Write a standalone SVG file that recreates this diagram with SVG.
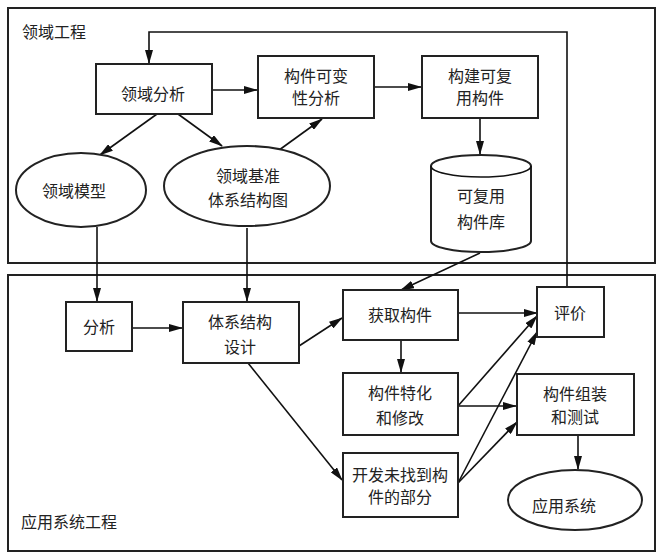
<svg xmlns="http://www.w3.org/2000/svg" width="663" height="560" viewBox="0 0 663 560">
<defs>
<marker id="ah" markerWidth="14" markerHeight="8" refX="13" refY="4" orient="auto" markerUnits="userSpaceOnUse">
<path d="M0,0 L14,4 L0,8 Z" fill="#111"/>
</marker>
<style>
.box{fill:#fff;stroke:#222;stroke-width:2}
.frame{fill:none;stroke:#222;stroke-width:2}
.t{font-family:"Noto Sans CJK SC","Liberation Sans",sans-serif;font-size:16px;fill:#222;text-anchor:middle}
.lbl{font-family:"Noto Sans CJK SC","Liberation Sans",sans-serif;font-size:16px;fill:#222}
.c{fill:none;stroke:#111;stroke-width:1.6}
.a{fill:none;stroke:#111;stroke-width:1.6;marker-end:url(#ah)}
</style>
</defs>
<rect width="663" height="560" fill="#fff"/>
<g id="frames">
<rect class="frame" x="8" y="8" width="647" height="255"/>
<rect class="frame" x="8" y="275" width="647" height="276"/>
<text class="lbl" x="22" y="38">领域工程</text>
<text class="lbl" x="21" y="528">应用系统工程</text>
</g>
<g id="connectors">
<path class="a" d="M567,287 V32 H149 V63"/>
<path class="a" d="M212,90 H257"/>
<path class="a" d="M374,87 H421"/>
<path class="a" d="M480,118 V154"/>
<path class="a" d="M157,114 L100,155"/>
<path class="a" d="M178,114 L222,146"/>
<path class="a" d="M275,153 L322,119"/>
<path class="a" d="M97,227 V301"/>
<path class="a" d="M247,228 V301"/>
<path class="a" d="M480,253 L401,290"/>
<path class="a" d="M132,328 H182"/>
<path class="a" d="M299,346 L342,318"/>
<path class="a" d="M248,363 L342,480"/>
<path class="a" d="M458,313 H537"/>
<path class="a" d="M401,340 V372"/>
<path class="a" d="M458,406 L537,316"/>
<path class="a" d="M458,406 H516"/>
<path class="a" d="M458,483 L537,332"/>
<path class="a" d="M458,483 L517,422"/>
<path class="a" d="M578,435 V469"/>
</g>
<g id="n-lyfx"><rect class="box" x="96" y="64" width="116" height="50"/><text class="t" x="153" y="100">领域分析</text></g>
<g id="n-gjkbx"><rect class="box" x="258" y="56" width="116" height="62"/><text class="t" x="316" y="82">构件可变</text><text class="t" x="316" y="104">性分析</text></g>
<g id="n-gjkfy"><rect class="box" x="422" y="56" width="116" height="62"/><text class="t" x="480" y="82">构建可复</text><text class="t" x="480" y="104">用构件</text></g>
<g id="n-lymx"><ellipse class="box" cx="81" cy="190" rx="65" ry="37"/><text class="t" x="74" y="197">领域模型</text></g>
<g id="n-lyjz"><ellipse class="box" cx="247" cy="186" rx="83" ry="40"/><text class="t" x="248" y="182">领域基准</text><text class="t" x="248" y="206">体系结构图</text></g>
<g id="n-gjk"><path class="box" d="M431,166 A50,11 0 0 1 531,166 V241 A50,11 0 0 1 431,241 Z"/><path class="c" d="M431,166 A50,11 0 0 0 531,166"/><text class="t" x="481" y="202">可复用</text><text class="t" x="481" y="228">构件库</text></g>
<g id="n-fx"><rect class="box" x="66" y="302" width="66" height="49"/><text class="t" x="99" y="333">分析</text></g>
<g id="n-txjg"><rect class="box" x="183" y="302" width="116" height="61"/><text class="t" x="240" y="328">体系结构</text><text class="t" x="240" y="353">设计</text></g>
<g id="n-hqgj"><rect class="box" x="343" y="290" width="115" height="50"/><text class="t" x="400" y="321">获取构件</text></g>
<g id="n-pj"><rect class="box" x="537" y="287" width="67" height="50"/><text class="t" x="570" y="319">评价</text></g>
<g id="n-thxg"><rect class="box" x="343" y="373" width="115" height="62"/><text class="t" x="400" y="399">构件特化</text><text class="t" x="400" y="424">和修改</text></g>
<g id="n-zzcs"><rect class="box" x="517" y="374" width="117" height="61"/><text class="t" x="575" y="400">构件组装</text><text class="t" x="575" y="423">和测试</text></g>
<g id="n-kf"><rect class="box" x="343" y="453" width="115" height="64"/><text class="t" x="400" y="481">开发未找到构</text><text class="t" x="400" y="503">件的部分</text></g>
<g id="n-yyxt"><ellipse class="box" cx="575" cy="500" rx="67" ry="30"/><text class="t" x="564" y="512">应用系统</text></g>
</svg>
